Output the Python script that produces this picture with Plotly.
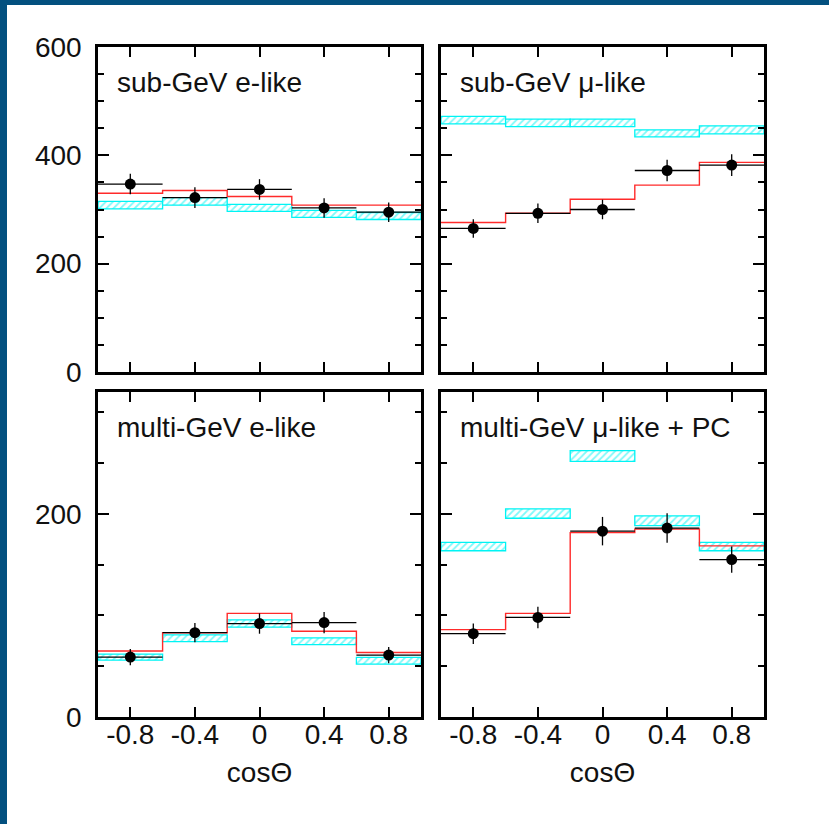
import plotly.graph_objects as go

# ---------------- data ----------------
bin_edges = [-1.0, -0.6, -0.2, 0.2, 0.6, 1.0]
bin_centers = [-0.8, -0.4, 0.0, 0.4, 0.8]
bin_halfwidth = [0.2, 0.2, 0.2, 0.2, 0.2]

panel_titles = ["sub-GeV e-like", "sub-GeV μ-like", "multi-GeV e-like", "multi-GeV μ-like + PC"]

# observed data points and errors
data_sub_e = [347, 322, 337, 303, 295]
err_sub_e = [19, 19, 19, 18, 18]
data_sub_mu = [265, 293, 300, 372, 382]
err_sub_mu = [17, 18, 18, 20, 20]
data_multi_e = [59, 83, 92, 93, 61]
err_multi_e = [8, 9.5, 10, 10.5, 8]
data_multi_mu = [82, 98, 183, 186, 155]
err_multi_mu = [10, 10.5, 14, 14.5, 13]

# best-fit oscillation expectation (red histogram)
fit_sub_e = [330, 335, 324, 308, 308]
fit_sub_mu = [276, 293, 319, 345, 387]
fit_multi_e = [65, 83, 102, 84.5, 63.5]
fit_multi_mu = [86, 102, 181.5, 185, 168.5]

# no-oscillation expectation (hatched boxes): centre and half-height
noosc_sub_e = [308, 315, 303, 292, 288]
noosc_sub_e_hw = [7, 7, 6.5, 6.5, 6.5]
noosc_sub_mu = [465, 460, 460, 440.5, 447]
noosc_sub_mu_hw = [7, 7, 7, 6.5, 7.5]
noosc_multi_e = [59, 77.6, 92, 74.6, 55.4]
noosc_multi_e_hw = [3, 3.3, 3.6, 3.3, 3.3]
noosc_multi_mu = [167.8, 200.3, 257, 193.2, 167.8]
noosc_multi_mu_hw = [4.1, 4.6, 5.3, 4.8, 4.1]

y_ticks_top = [0, 200, 400, 600]
y_ticks_bottom = [0, 200]
x_ticks = [-0.8, -0.4, 0, 0.4, 0.8]
x_tick_labels = ["-0.8", "-0.4", "0", "0.4", "0.8"]
x_title = "cosΘ"

# ---------------- figure ----------------
W, H = 829, 824
FONT = "Liberation Sans, Arial, sans-serif"
CYAN = "#00f4f4"
RED = "#ff2a2a"
TXT = "#111"

panels = [
    (data_sub_e, err_sub_e, fit_sub_e, noosc_sub_e, noosc_sub_e_hw),
    (data_sub_mu, err_sub_mu, fit_sub_mu, noosc_sub_mu, noosc_sub_mu_hw),
    (data_multi_e, err_multi_e, fit_multi_e, noosc_multi_e, noosc_multi_e_hw),
    (data_multi_mu, err_multi_mu, fit_multi_mu, noosc_multi_mu, noosc_multi_mu_hw),
]

fig = go.Figure()
for i, (d, e, f, n, nhw) in enumerate(panels):
    xa = "x" if i == 0 else f"x{i+1}"
    ya = "y" if i == 0 else f"y{i+1}"
    base = [c - h for c, h in zip(n, nhw)]
    height = [2 * h for h in nhw]
    fig.add_trace(go.Bar(
        x=bin_centers, y=height, base=base, width=0.4,
        marker=dict(color="white", line=dict(color=CYAN, width=1.3),
                    pattern=dict(shape="/", fgcolor=CYAN, bgcolor="white",
                                 size=5, solidity=0.35)),
        xaxis=xa, yaxis=ya, showlegend=False, hoverinfo="skip"))
    fig.add_trace(go.Scatter(
        x=bin_edges, y=f + [f[-1]], mode="lines", line_shape="hv",
        line=dict(color=RED, width=1.4),
        xaxis=xa, yaxis=ya, showlegend=False))
    fig.add_trace(go.Scatter(
        x=bin_centers, y=d, mode="markers",
        marker=dict(color="black", size=11),
        error_y=dict(type="data", array=e, color="black", thickness=1.3, width=0),
        error_x=dict(type="data", array=bin_halfwidth, color="black", thickness=1.3, width=0),
        xaxis=xa, yaxis=ya, showlegend=False))

xdom_l = [98 / W, 421 / W]
xdom_r = [441 / W, 764 / W]
ydom_t = [1 - 372 / H, 1 - 47 / H]
ydom_b = [1 - 717 / H, 1 - 392 / H]

tickfont = dict(family=FONT, size=28, color=TXT)
common_x = dict(range=[-1, 1], tickvals=x_ticks, ticktext=x_tick_labels,
                ticks="inside", ticklen=10, tickwidth=2, tickcolor="black",
                showline=True, linewidth=2.5, linecolor="black", mirror="ticks",
                showgrid=False, zeroline=False, tickfont=tickfont, fixedrange=True,
                automargin=False, ticklabelstandoff=-9)
common_y = dict(ticks="inside", ticklen=11, tickwidth=2, tickcolor="black",
                showline=True, linewidth=2.5, linecolor="black", mirror="ticks",
                showgrid=False, zeroline=False, tickfont=tickfont, fixedrange=True,
                automargin=False, ticklabelstandoff=8,
                minor=dict(dtick=50, ticks="inside", ticklen=6, tickwidth=2, tickcolor="black"))

xtitle = dict(text=x_title, font=dict(family=FONT, size=28, color=TXT), standoff=14)

layout = dict(
    width=W, height=H, margin=dict(l=0, r=0, t=0, b=0, pad=0),
    paper_bgcolor="white", plot_bgcolor="white", barmode="overlay",
    font=dict(family=FONT, color=TXT),
    xaxis=dict(common_x, domain=xdom_l, anchor="y", showticklabels=False),
    xaxis2=dict(common_x, domain=xdom_r, anchor="y2", showticklabels=False),
    xaxis3=dict(common_x, domain=xdom_l, anchor="y3", title=xtitle),
    xaxis4=dict(common_x, domain=xdom_r, anchor="y4", title=xtitle),
    yaxis=dict(common_y, domain=ydom_t, anchor="x", range=[0, 600], tickvals=y_ticks_top),
    yaxis2=dict(common_y, domain=ydom_t, anchor="x2", range=[0, 600], tickvals=y_ticks_top,
                showticklabels=False),
    yaxis3=dict(common_y, domain=ydom_b, anchor="x3", range=[0, 320], tickvals=y_ticks_bottom),
    yaxis4=dict(common_y, domain=ydom_b, anchor="x4", range=[0, 320], tickvals=y_ticks_bottom,
                showticklabels=False),
)
fig.update_layout(**layout)

for i, t in enumerate(panel_titles):
    xr = "x domain" if i == 0 else f"x{i+1} domain"
    yr = "y domain" if i == 0 else f"y{i+1} domain"
    fig.add_annotation(text=t, xref=xr, yref=yr, x=17 / 323, y=1 - 35 / 325,
                       xanchor="left", yanchor="middle", showarrow=False,
                       font=dict(family=FONT, size=28, color=TXT))

# blue frame strips (top and left)
fig.add_shape(type="rect", xref="paper", yref="paper", x0=0, x1=1, y0=1 - 5 / H, y1=1,
              fillcolor="#03507f", line=dict(width=0), layer="above")
fig.add_shape(type="rect", xref="paper", yref="paper", x0=0, x1=7 / W, y0=0, y1=1,
              fillcolor="#03507f", line=dict(width=0), layer="above")

fig.write_html("out.html", config={"displayModeBar": False},
               post_script="document.body.style.margin='0';document.body.style.overflow='hidden';")
